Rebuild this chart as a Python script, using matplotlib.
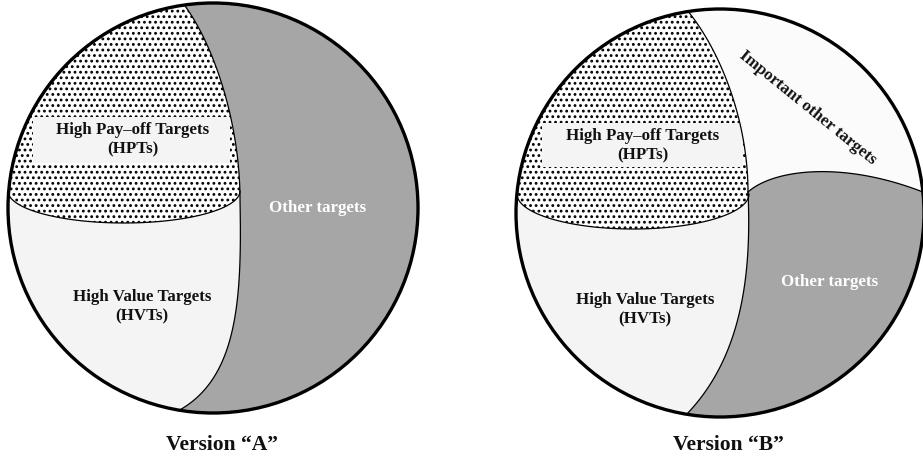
import numpy as np
import matplotlib
matplotlib.use("Agg")
import matplotlib.pyplot as plt
from matplotlib.patches import Circle, Polygon, Rectangle

plt.rcParams['font.family'] = ['Liberation Serif', 'DejaVu Serif']
plt.rcParams['hatch.linewidth'] = 1.25

# geometry in pixel units (y grows downwards)
circle_a = (213, 208, 205)
circle_b = (720, 213, 204)

# version A: boundary of "Other targets" (two cubic segments) and HPT/HVT divider
a_other_edge = [[(182, 2), (212, 40), (240, 120), (240, 200)],
                [(240, 200), (242, 300), (238, 380), (176, 412)]]
a_divider = (124, 191, 116, 32)          # ellipse centre x, y, half width, half height
a_box = (33, 117, 197, 46)

# version B
b_hpt_edge = [(687, 10), (720, 50), (748, 120), (748, 192)]
b_hvt_edge = [(748, 192), (752, 280), (740, 360), (685, 416)]
b_other_edge = [(748, 192), (775, 168), (850, 160), (935, 197)]
b_divider = (633, 194, 116, 35)
b_box = (542, 123, 201, 44)

titles = ['Version “A”', 'Version “B”']
hpt_label = 'High Pay–off Targets\n(HPTs)'
hvt_label = 'High Value Targets\n(HVTs)'
other_label = 'Other targets'
important_label = 'Important other targets'

label_pos_a = {'hpt': (133, 140), 'hvt': (142, 307), 'other': (318, 208), 'title': (222, 445)}
label_pos_b = {'hpt': (643, 146), 'hvt': (645, 310), 'other': (830, 282),
               'important': (808, 108), 'title': (728, 445)}

GREY = '#a6a6a6'
LIGHT = '#f4f4f4'


def bezier(ctrl, n=60):
    p = np.array(ctrl, dtype=float)
    t = np.linspace(0, 1, n)[:, None]
    return ((1 - t) ** 3 * p[0] + 3 * (1 - t) ** 2 * t * p[1]
            + 3 * (1 - t) * t ** 2 * p[2] + t ** 3 * p[3])


def lower_half(ell, n=80):
    cx, cy, a, b = ell
    th = np.linspace(np.pi, 0, n)
    return np.column_stack([cx + a * np.cos(th), cy + b * np.sin(th)])


fig = plt.figure(figsize=(9.23, 4.59), dpi=100)
ax = fig.add_axes([0, 0, 1, 1])
ax.set_xlim(0, 923)
ax.set_ylim(459, 0)
ax.axis('off')


def add_clipped(poly, clip, **kw):
    p = Polygon(poly, closed=True, **kw)
    ax.add_patch(p)
    p.set_clip_path(clip)
    return p


def label(x, y, s, color='#111111', **kw):
    ax.text(x, y, s, ha='center', va='center', fontsize=12.2, fontweight='bold',
            color=color, linespacing=1.3, **kw)


# ---------------- Version A ----------------
cx, cy, r = circle_a
base = Circle((cx, cy), r, facecolor=LIGHT, edgecolor='none', zorder=1)
ax.add_patch(base)

div = lower_half(a_divider)
hpt_poly = np.vstack([[(0, div[0, 1])], div, [(div[-1, 0], 0), (0, 0)]])
add_clipped(hpt_poly, base, facecolor='white', edgecolor='black', hatch='...',
            linewidth=0, zorder=2)
bx, by, bw, bh = a_box
box = Rectangle((bx, by), bw, bh, facecolor=LIGHT, edgecolor='none', zorder=3)
ax.add_patch(box)
box.set_clip_path(base)

edge = np.vstack([bezier(s) for s in a_other_edge])
other_poly = np.vstack([edge, [(460, edge[-1, 1]), (460, edge[0, 1])]])
add_clipped(other_poly, base, facecolor=GREY, edgecolor='none', zorder=4)

for line in (edge, div):
    ln, = ax.plot(line[:, 0], line[:, 1], color='black', lw=0.9, zorder=5)
    ln.set_clip_path(base)
ax.add_patch(Circle((cx, cy), r, facecolor='none', edgecolor='black', lw=2.4, zorder=6))

label(*label_pos_a['hpt'], hpt_label, zorder=7)
label(*label_pos_a['hvt'], hvt_label, zorder=7)
label(*label_pos_a['other'], other_label, color='white', zorder=7)
ax.text(*label_pos_a['title'], titles[0], ha='center', va='center', fontsize=15.5,
        fontweight='bold', color='#111111')

# ---------------- Version B ----------------
cx, cy, r = circle_b
base = Circle((cx, cy), r, facecolor='#fbfbfb', edgecolor='none', zorder=1)
ax.add_patch(base)

hvt_bg = np.vstack([[(500, 190)], bezier(b_hpt_edge)[::-1][:1], bezier(b_hvt_edge),
                    [(500, 430)]])
add_clipped(hvt_bg, base, facecolor=LIGHT, edgecolor='none', zorder=1.5)

div = lower_half(b_divider)
hpt_e = bezier(b_hpt_edge)
hpt_poly = np.vstack([[(500, div[0, 1])], div, hpt_e[::-1], [(hpt_e[0, 0], 0), (500, 0)]])
add_clipped(hpt_poly, base, facecolor='white', edgecolor='black', hatch='...',
            linewidth=0, zorder=2)
bx, by, bw, bh = b_box
box = Rectangle((bx, by), bw, bh, facecolor=LIGHT, edgecolor='none', zorder=3)
ax.add_patch(box)
box.set_clip_path(base)

hvt_e = bezier(b_hvt_edge)
oth_e = bezier(b_other_edge)
other_poly = np.vstack([oth_e, [(940, oth_e[-1, 1]), (940, 440), (hvt_e[-1, 0], 440)],
                        hvt_e[::-1]])
add_clipped(other_poly, base, facecolor=GREY, edgecolor='none', zorder=4)

for line in (hpt_e, hvt_e, oth_e, div):
    ln, = ax.plot(line[:, 0], line[:, 1], color='black', lw=0.9, zorder=5)
    ln.set_clip_path(base)
ax.add_patch(Circle((cx, cy), r, facecolor='none', edgecolor='black', lw=2.4, zorder=6))

label(*label_pos_b['hpt'], hpt_label, zorder=7)
label(*label_pos_b['hvt'], hvt_label, zorder=7)
label(*label_pos_b['other'], other_label, color='white', zorder=7)
label(*label_pos_b['important'], important_label, rotation=-39, rotation_mode='anchor',
      zorder=7)
ax.text(*label_pos_b['title'], titles[1], ha='center', va='center', fontsize=15.5,
        fontweight='bold', color='#111111')

fig.savefig('out.png', dpi=100, facecolor='white')
